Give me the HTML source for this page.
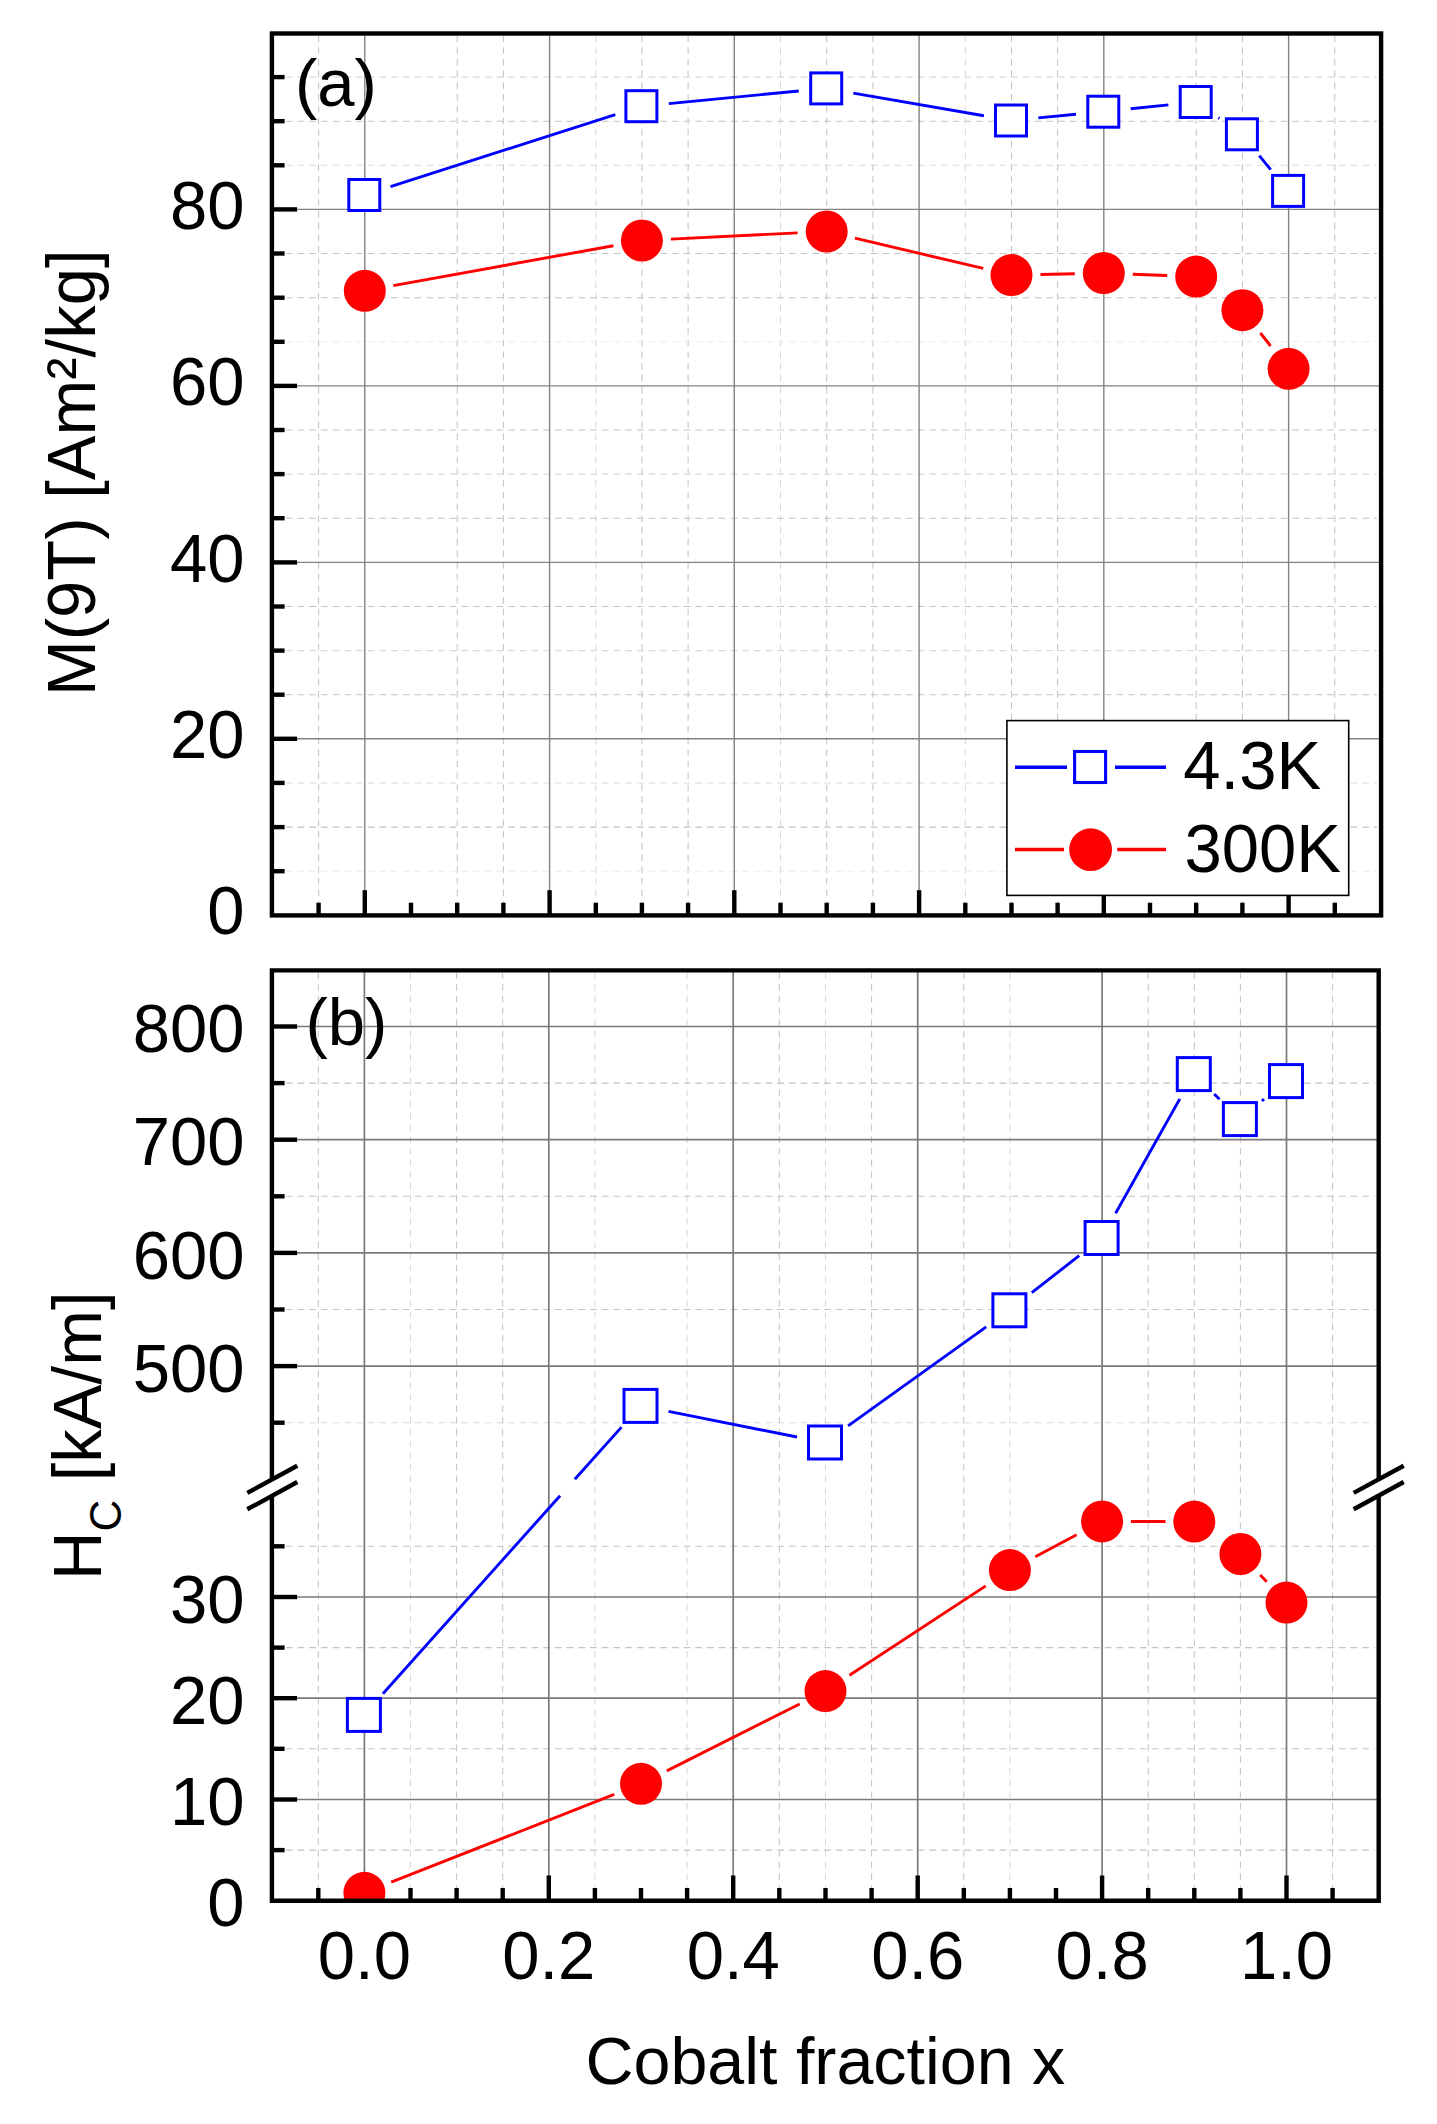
<!DOCTYPE html>
<html lang="en"><head><meta charset="utf-8"><title>Magnetisation and coercivity vs cobalt fraction</title>
<style>html,body{margin:0;padding:0;background:#fff}svg{display:block}text{font-family:"Liberation Sans",Arial,Helvetica,sans-serif;fill:#000}</style></head><body>
<svg width="1437" height="2124" viewBox="0 0 1437 2124" role="img" aria-label="Magnetisation and coercivity versus cobalt fraction">
<rect width="1437" height="2124" fill="#fff"/>
<g fill="none">
<g stroke-width="1.05" stroke-dasharray="6.7 5">
<line x1="318.6" y1="35.5" x2="318.6" y2="915.4" stroke="#c4c4c4"/>
<line x1="457.2" y1="35.5" x2="457.2" y2="915.4" stroke="#c4c4c4"/>
<line x1="503.4" y1="35.5" x2="503.4" y2="915.4" stroke="#c4c4c4"/>
<line x1="595.8" y1="35.5" x2="595.8" y2="915.4" stroke="#d9d9d9"/>
<line x1="641.9" y1="35.5" x2="641.9" y2="915.4" stroke="#c4c4c4"/>
<line x1="688.1" y1="35.5" x2="688.1" y2="915.4" stroke="#c4c4c4"/>
<line x1="780.5" y1="35.5" x2="780.5" y2="915.4" stroke="#d9d9d9"/>
<line x1="826.7" y1="35.5" x2="826.7" y2="915.4" stroke="#c4c4c4"/>
<line x1="872.9" y1="35.5" x2="872.9" y2="915.4" stroke="#c4c4c4"/>
<line x1="965.3" y1="35.5" x2="965.3" y2="915.4" stroke="#d9d9d9"/>
<line x1="1011.5" y1="35.5" x2="1011.5" y2="915.4" stroke="#c4c4c4"/>
<line x1="1057.6" y1="35.5" x2="1057.6" y2="915.4" stroke="#c4c4c4"/>
<line x1="1196.2" y1="35.5" x2="1196.2" y2="915.4" stroke="#c4c4c4"/>
<line x1="1242.4" y1="35.5" x2="1242.4" y2="915.4" stroke="#c4c4c4"/>
<line x1="1334.8" y1="35.5" x2="1334.8" y2="915.4" stroke="#c4c4c4"/>
<line x1="285.9" y1="871.2" x2="1377.1" y2="871.2" stroke="#ececec"/>
<line x1="285.9" y1="827.1" x2="1377.1" y2="827.1" stroke="#c4c4c4"/>
<line x1="285.9" y1="782.9" x2="1377.1" y2="782.9" stroke="#d9d9d9"/>
<line x1="285.9" y1="694.7" x2="1377.1" y2="694.7" stroke="#c4c4c4"/>
<line x1="285.9" y1="650.6" x2="1377.1" y2="650.6" stroke="#d9d9d9"/>
<line x1="285.9" y1="606.5" x2="1377.1" y2="606.5" stroke="#c4c4c4"/>
<line x1="285.9" y1="518.2" x2="1377.1" y2="518.2" stroke="#c4c4c4"/>
<line x1="285.9" y1="474.1" x2="1377.1" y2="474.1" stroke="#d9d9d9"/>
<line x1="285.9" y1="430.0" x2="1377.1" y2="430.0" stroke="#c4c4c4"/>
<line x1="285.9" y1="341.8" x2="1377.1" y2="341.8" stroke="#ececec"/>
<line x1="285.9" y1="297.7" x2="1377.1" y2="297.7" stroke="#c4c4c4"/>
<line x1="285.9" y1="253.5" x2="1377.1" y2="253.5" stroke="#c4c4c4"/>
<line x1="285.9" y1="165.3" x2="1377.1" y2="165.3" stroke="#d9d9d9"/>
<line x1="285.9" y1="121.2" x2="1377.1" y2="121.2" stroke="#c4c4c4"/>
<line x1="285.9" y1="77.1" x2="1377.1" y2="77.1" stroke="#d9d9d9"/>
</g>
<g stroke="#828282" stroke-width="1.4">
<line x1="364.8" y1="33.5" x2="364.8" y2="915.4"/>
<line x1="549.6" y1="33.5" x2="549.6" y2="915.4"/>
<line x1="734.3" y1="33.5" x2="734.3" y2="915.4"/>
<line x1="919.1" y1="33.5" x2="919.1" y2="915.4"/>
<line x1="1103.8" y1="33.5" x2="1103.8" y2="915.4"/>
<line x1="1288.6" y1="33.5" x2="1288.6" y2="915.4"/>
<line x1="271.9" y1="738.8" x2="1381.1" y2="738.8"/>
<line x1="271.9" y1="562.4" x2="1381.1" y2="562.4"/>
<line x1="271.9" y1="385.9" x2="1381.1" y2="385.9"/>
<line x1="271.9" y1="209.4" x2="1381.1" y2="209.4"/>
</g></g>
<g stroke="#0000ff" stroke-width="2.9" fill="none">
<line x1="390.5" y1="186.6" x2="615.3" y2="114.6"/>
<line x1="668.8" y1="103.6" x2="798.8" y2="91.0"/>
<line x1="853.3" y1="93.1" x2="983.9" y2="115.8"/>
<line x1="1038.3" y1="117.9" x2="1076.0" y2="114.3"/>
<line x1="1130.7" y1="108.8" x2="1168.4" y2="104.9"/>
<line x1="1218.3" y1="117.8" x2="1219.4" y2="118.5"/>
<line x1="1259.3" y1="155.6" x2="1270.7" y2="169.6"/>
</g>
<g stroke="#0000ff" stroke-width="3" fill="#fff">
<rect x="348.8" y="179.5" width="31" height="31"/>
<rect x="625.9" y="90.7" width="31" height="31"/>
<rect x="810.7" y="72.9" width="31" height="31"/>
<rect x="995.5" y="105.0" width="31" height="31"/>
<rect x="1087.8" y="96.2" width="31" height="31"/>
<rect x="1180.2" y="86.5" width="31" height="31"/>
<rect x="1226.4" y="118.8" width="31" height="31"/>
<rect x="1272.6" y="175.4" width="31" height="31"/>
</g>
<g stroke="#ff0000" stroke-width="2.9" fill="none">
<line x1="393.3" y1="285.6" x2="613.4" y2="245.7"/>
<line x1="670.9" y1="239.1" x2="797.7" y2="232.9"/>
<line x1="854.9" y1="238.2" x2="983.2" y2="268.4"/>
<line x1="1040.5" y1="274.5" x2="1074.8" y2="273.7"/>
<line x1="1132.8" y1="274.2" x2="1167.2" y2="275.5"/>
<line x1="1260.4" y1="333.0" x2="1270.6" y2="346.0"/>
</g>
<g fill="#ff0000">
<circle cx="364.8" cy="290.8" r="21"/>
<circle cx="641.9" cy="240.5" r="21"/>
<circle cx="826.7" cy="231.5" r="21"/>
<circle cx="1011.5" cy="275.1" r="21"/>
<circle cx="1103.8" cy="273.1" r="21"/>
<circle cx="1196.2" cy="276.6" r="21"/>
<circle cx="1242.4" cy="310.2" r="21"/>
<circle cx="1288.6" cy="368.8" r="21"/>
</g>
<g stroke="#000" stroke-width="4.4" fill="none">
<line x1="318.6" y1="915.4" x2="318.6" y2="902.7"/>
<line x1="364.8" y1="915.4" x2="364.8" y2="890.2"/>
<line x1="411.0" y1="915.4" x2="411.0" y2="902.7"/>
<line x1="457.2" y1="915.4" x2="457.2" y2="902.7"/>
<line x1="503.4" y1="915.4" x2="503.4" y2="902.7"/>
<line x1="549.6" y1="915.4" x2="549.6" y2="890.2"/>
<line x1="595.8" y1="915.4" x2="595.8" y2="902.7"/>
<line x1="641.9" y1="915.4" x2="641.9" y2="902.7"/>
<line x1="688.1" y1="915.4" x2="688.1" y2="902.7"/>
<line x1="734.3" y1="915.4" x2="734.3" y2="890.2"/>
<line x1="780.5" y1="915.4" x2="780.5" y2="902.7"/>
<line x1="826.7" y1="915.4" x2="826.7" y2="902.7"/>
<line x1="872.9" y1="915.4" x2="872.9" y2="902.7"/>
<line x1="919.1" y1="915.4" x2="919.1" y2="890.2"/>
<line x1="965.3" y1="915.4" x2="965.3" y2="902.7"/>
<line x1="1011.5" y1="915.4" x2="1011.5" y2="902.7"/>
<line x1="1057.6" y1="915.4" x2="1057.6" y2="902.7"/>
<line x1="1103.8" y1="915.4" x2="1103.8" y2="890.2"/>
<line x1="1150.0" y1="915.4" x2="1150.0" y2="902.7"/>
<line x1="1196.2" y1="915.4" x2="1196.2" y2="902.7"/>
<line x1="1242.4" y1="915.4" x2="1242.4" y2="902.7"/>
<line x1="1288.6" y1="915.4" x2="1288.6" y2="890.2"/>
<line x1="1334.8" y1="915.4" x2="1334.8" y2="902.7"/>
<line x1="271.9" y1="738.8" x2="297.1" y2="738.8"/>
<line x1="271.9" y1="562.4" x2="297.1" y2="562.4"/>
<line x1="271.9" y1="385.9" x2="297.1" y2="385.9"/>
<line x1="271.9" y1="209.4" x2="297.1" y2="209.4"/>
<line x1="271.9" y1="871.2" x2="284.6" y2="871.2"/>
<line x1="271.9" y1="827.1" x2="284.6" y2="827.1"/>
<line x1="271.9" y1="782.9" x2="284.6" y2="782.9"/>
<line x1="271.9" y1="694.7" x2="284.6" y2="694.7"/>
<line x1="271.9" y1="650.6" x2="284.6" y2="650.6"/>
<line x1="271.9" y1="606.5" x2="284.6" y2="606.5"/>
<line x1="271.9" y1="518.2" x2="284.6" y2="518.2"/>
<line x1="271.9" y1="474.1" x2="284.6" y2="474.1"/>
<line x1="271.9" y1="430.0" x2="284.6" y2="430.0"/>
<line x1="271.9" y1="341.8" x2="284.6" y2="341.8"/>
<line x1="271.9" y1="297.7" x2="284.6" y2="297.7"/>
<line x1="271.9" y1="253.5" x2="284.6" y2="253.5"/>
<line x1="271.9" y1="165.3" x2="284.6" y2="165.3"/>
<line x1="271.9" y1="121.2" x2="284.6" y2="121.2"/>
<line x1="271.9" y1="77.1" x2="284.6" y2="77.1"/>
</g>
<rect x="271.9" y="33.5" width="1109.2" height="881.9" fill="none" stroke="#000" stroke-width="4.4"/>
<rect x="1006.9" y="720.6" width="341.8" height="174.8" fill="#fff" stroke="#000" stroke-width="1.6"/>
<g stroke-width="3.4" fill="none"><g stroke="#0000ff"><line x1="1015" y1="767.3" x2="1067" y2="767.3"/><line x1="1115" y1="767.3" x2="1166" y2="767.3"/></g><g stroke="#ff0000"><line x1="1015" y1="849.5" x2="1064" y2="849.5"/><line x1="1117.2" y1="849.5" x2="1166" y2="849.5"/></g></g>
<rect x="1074.6" y="751.5" width="31" height="31" fill="#fff" stroke="#0000ff" stroke-width="3.1"/>
<circle cx="1090.6" cy="849.7" r="21.4" fill="#ff0000"/>
<text transform="translate(1183.3 789) scale(1 1.034)" font-size="67">4.3K</text>
<text transform="translate(1184.5 872.3) scale(1 1.034)" font-size="67">300K</text>
<text transform="translate(244.6 934.4) scale(1 1.034)" font-size="67" text-anchor="end">0</text>
<text transform="translate(244.6 757.9) scale(1 1.034)" font-size="67" text-anchor="end">20</text>
<text transform="translate(244.6 581.5) scale(1 1.034)" font-size="67" text-anchor="end">40</text>
<text transform="translate(244.6 405.0) scale(1 1.034)" font-size="67" text-anchor="end">60</text>
<text transform="translate(244.6 228.5) scale(1 1.034)" font-size="67" text-anchor="end">80</text>
<text transform="translate(295 105.8) scale(1 1.0)" font-size="67">(a)</text>
<text transform="translate(95.1 696) rotate(-90) scale(1 1.025)" font-size="67">M(9T) [Am²/kg]</text>
<g fill="none">
<g stroke-width="1.05" stroke-dasharray="6.7 5">
<line x1="318.3" y1="972.4" x2="318.3" y2="1900.7" stroke="#c4c4c4"/>
<line x1="410.5" y1="972.4" x2="410.5" y2="1900.7" stroke="#d9d9d9"/>
<line x1="456.6" y1="972.4" x2="456.6" y2="1900.7" stroke="#c4c4c4"/>
<line x1="502.7" y1="972.4" x2="502.7" y2="1900.7" stroke="#c4c4c4"/>
<line x1="594.9" y1="972.4" x2="594.9" y2="1900.7" stroke="#d9d9d9"/>
<line x1="687.1" y1="972.4" x2="687.1" y2="1900.7" stroke="#d9d9d9"/>
<line x1="779.3" y1="972.4" x2="779.3" y2="1900.7" stroke="#c4c4c4"/>
<line x1="825.5" y1="972.4" x2="825.5" y2="1900.7" stroke="#d9d9d9"/>
<line x1="871.6" y1="972.4" x2="871.6" y2="1900.7" stroke="#c4c4c4"/>
<line x1="963.8" y1="972.4" x2="963.8" y2="1900.7" stroke="#c4c4c4"/>
<line x1="1009.9" y1="972.4" x2="1009.9" y2="1900.7" stroke="#d9d9d9"/>
<line x1="1148.2" y1="972.4" x2="1148.2" y2="1900.7" stroke="#c4c4c4"/>
<line x1="1194.3" y1="972.4" x2="1194.3" y2="1900.7" stroke="#c4c4c4"/>
<line x1="1240.4" y1="972.4" x2="1240.4" y2="1900.7" stroke="#c4c4c4"/>
<line x1="1332.6" y1="972.4" x2="1332.6" y2="1900.7" stroke="#c4c4c4"/>
<line x1="285.9" y1="1083.1" x2="1374.7" y2="1083.1" stroke="#c4c4c4"/>
<line x1="285.9" y1="1196.3" x2="1374.7" y2="1196.3" stroke="#c4c4c4"/>
<line x1="285.9" y1="1309.5" x2="1374.7" y2="1309.5" stroke="#c4c4c4"/>
<line x1="285.9" y1="1422.7" x2="1374.7" y2="1422.7" stroke="#d9d9d9"/>
<line x1="285.9" y1="1546.3" x2="1374.7" y2="1546.3" stroke="#c4c4c4"/>
<line x1="285.9" y1="1647.6" x2="1374.7" y2="1647.6" stroke="#c4c4c4"/>
<line x1="285.9" y1="1748.8" x2="1374.7" y2="1748.8" stroke="#c4c4c4"/>
<line x1="285.9" y1="1850.1" x2="1374.7" y2="1850.1" stroke="#c4c4c4"/>
</g>
<g stroke="#7a7a7a" stroke-width="1.7">
<line x1="364.4" y1="970.4" x2="364.4" y2="1900.7"/>
<line x1="548.8" y1="970.4" x2="548.8" y2="1900.7"/>
<line x1="733.2" y1="970.4" x2="733.2" y2="1900.7"/>
<line x1="917.7" y1="970.4" x2="917.7" y2="1900.7"/>
<line x1="1102.1" y1="970.4" x2="1102.1" y2="1900.7"/>
<line x1="1286.5" y1="970.4" x2="1286.5" y2="1900.7"/>
<line x1="271.9" y1="1026.5" x2="1378.7" y2="1026.5"/>
<line x1="271.9" y1="1139.7" x2="1378.7" y2="1139.7"/>
<line x1="271.9" y1="1252.9" x2="1378.7" y2="1252.9"/>
<line x1="271.9" y1="1366.1" x2="1378.7" y2="1366.1"/>
<line x1="271.9" y1="1597.0" x2="1378.7" y2="1597.0"/>
<line x1="271.9" y1="1698.2" x2="1378.7" y2="1698.2"/>
<line x1="271.9" y1="1799.5" x2="1378.7" y2="1799.5"/>
</g></g>
<g stroke="#000" stroke-width="4.4" fill="none">
<line x1="318.3" y1="1900.7" x2="318.3" y2="1888.0"/>
<line x1="364.4" y1="1900.7" x2="364.4" y2="1875.5"/>
<line x1="410.5" y1="1900.7" x2="410.5" y2="1888.0"/>
<line x1="456.6" y1="1900.7" x2="456.6" y2="1888.0"/>
<line x1="502.7" y1="1900.7" x2="502.7" y2="1888.0"/>
<line x1="548.8" y1="1900.7" x2="548.8" y2="1875.5"/>
<line x1="594.9" y1="1900.7" x2="594.9" y2="1888.0"/>
<line x1="641.0" y1="1900.7" x2="641.0" y2="1888.0"/>
<line x1="687.1" y1="1900.7" x2="687.1" y2="1888.0"/>
<line x1="733.2" y1="1900.7" x2="733.2" y2="1875.5"/>
<line x1="779.3" y1="1900.7" x2="779.3" y2="1888.0"/>
<line x1="825.5" y1="1900.7" x2="825.5" y2="1888.0"/>
<line x1="871.6" y1="1900.7" x2="871.6" y2="1888.0"/>
<line x1="917.7" y1="1900.7" x2="917.7" y2="1875.5"/>
<line x1="963.8" y1="1900.7" x2="963.8" y2="1888.0"/>
<line x1="1009.9" y1="1900.7" x2="1009.9" y2="1888.0"/>
<line x1="1056.0" y1="1900.7" x2="1056.0" y2="1888.0"/>
<line x1="1102.1" y1="1900.7" x2="1102.1" y2="1875.5"/>
<line x1="1148.2" y1="1900.7" x2="1148.2" y2="1888.0"/>
<line x1="1194.3" y1="1900.7" x2="1194.3" y2="1888.0"/>
<line x1="1240.4" y1="1900.7" x2="1240.4" y2="1888.0"/>
<line x1="1286.5" y1="1900.7" x2="1286.5" y2="1875.5"/>
<line x1="1332.6" y1="1900.7" x2="1332.6" y2="1888.0"/>
<line x1="271.9" y1="1026.5" x2="297.1" y2="1026.5"/>
<line x1="271.9" y1="1139.7" x2="297.1" y2="1139.7"/>
<line x1="271.9" y1="1252.9" x2="297.1" y2="1252.9"/>
<line x1="271.9" y1="1366.1" x2="297.1" y2="1366.1"/>
<line x1="271.9" y1="1597.0" x2="297.1" y2="1597.0"/>
<line x1="271.9" y1="1698.2" x2="297.1" y2="1698.2"/>
<line x1="271.9" y1="1799.5" x2="297.1" y2="1799.5"/>
<line x1="271.9" y1="1083.1" x2="284.6" y2="1083.1"/>
<line x1="271.9" y1="1196.3" x2="284.6" y2="1196.3"/>
<line x1="271.9" y1="1309.5" x2="284.6" y2="1309.5"/>
<line x1="271.9" y1="1422.7" x2="284.6" y2="1422.7"/>
<line x1="271.9" y1="1546.3" x2="284.6" y2="1546.3"/>
<line x1="271.9" y1="1647.6" x2="284.6" y2="1647.6"/>
<line x1="271.9" y1="1748.8" x2="284.6" y2="1748.8"/>
<line x1="271.9" y1="1850.1" x2="284.6" y2="1850.1"/>
</g>
<clipPath id="c2"><rect x="271.9" y="970.4" width="1106.8" height="930.3"/></clipPath>
<g clip-path="url(#c2)">
<g stroke="#0000ff" stroke-width="2.9" fill="none">
<line x1="382.9" y1="1693.7" x2="560.1" y2="1495.7"/>
<line x1="574.8" y1="1479.3" x2="621.5" y2="1427.1"/>
<line x1="668.5" y1="1411.4" x2="797.0" y2="1437.0"/>
<line x1="848.1" y1="1425.9" x2="986.2" y2="1326.9"/>
<line x1="1031.8" y1="1292.7" x2="1079.2" y2="1255.6"/>
<line x1="1115.6" y1="1213.2" x2="1179.8" y2="1098.9"/>
<line x1="1214.2" y1="1094.0" x2="1219.5" y2="1099.2"/>
<line x1="1261.9" y1="1101.0" x2="1264.0" y2="1099.2"/>
</g>
<g stroke="#0000ff" stroke-width="3" fill="#fff">
<rect x="347.4" y="1698.4" width="33" height="33"/>
<rect x="624.0" y="1389.4" width="33" height="33"/>
<rect x="808.5" y="1426.0" width="33" height="33"/>
<rect x="992.9" y="1293.8" width="33" height="33"/>
<rect x="1085.1" y="1221.5" width="33" height="33"/>
<rect x="1177.3" y="1057.6" width="33" height="33"/>
<rect x="1223.4" y="1102.6" width="33" height="33"/>
<rect x="1269.5" y="1064.6" width="33" height="33"/>
</g>
<g stroke="#ff0000" stroke-width="2.9" fill="none">
<line x1="391.2" y1="1882.2" x2="614.2" y2="1794.4"/>
<line x1="666.8" y1="1770.9" x2="799.7" y2="1704.0"/>
<line x1="849.5" y1="1675.3" x2="985.8" y2="1585.9"/>
<line x1="1035.3" y1="1556.7" x2="1076.6" y2="1534.8"/>
<line x1="1130.9" y1="1521.5" x2="1165.5" y2="1521.5"/>
<line x1="1260.2" y1="1574.9" x2="1266.7" y2="1581.7"/>
</g>
<g fill="#ff0000">
<circle cx="364.4" cy="1892.8" r="21"/>
<circle cx="641.0" cy="1783.8" r="21"/>
<circle cx="825.5" cy="1691.1" r="21"/>
<circle cx="1009.9" cy="1570.1" r="21"/>
<circle cx="1102.1" cy="1521.4" r="21"/>
<circle cx="1194.3" cy="1521.6" r="21"/>
<circle cx="1240.4" cy="1554.0" r="21"/>
<circle cx="1286.5" cy="1602.6" r="21"/>
</g>
</g>
<g stroke="#000" stroke-width="4.4" fill="none">
<path d="M271.9 1479.3V970.4H1378.7V1479.3M1378.7 1495.7V1900.7H271.9V1495.7" stroke-linejoin="miter"/>
</g>
<g stroke="#000" stroke-width="4.4" fill="none">
<line x1="247.3" y1="1492.9" x2="297.3" y2="1465.8"/>
<line x1="247.3" y1="1509.3" x2="297.3" y2="1482.0"/>
<line x1="1353.7" y1="1492.9" x2="1403.7" y2="1465.8"/>
<line x1="1353.7" y1="1509.3" x2="1403.7" y2="1482.0"/>
</g>
<text transform="translate(244.6 1052.1) scale(1 1.034)" font-size="67" text-anchor="end">800</text>
<text transform="translate(244.6 1165.3) scale(1 1.034)" font-size="67" text-anchor="end">700</text>
<text transform="translate(244.6 1278.5) scale(1 1.034)" font-size="67" text-anchor="end">600</text>
<text transform="translate(244.6 1391.7) scale(1 1.034)" font-size="67" text-anchor="end">500</text>
<text transform="translate(244.6 1622.7) scale(1 1.034)" font-size="67" text-anchor="end">30</text>
<text transform="translate(244.6 1723.9) scale(1 1.034)" font-size="67" text-anchor="end">20</text>
<text transform="translate(244.6 1825.2) scale(1 1.034)" font-size="67" text-anchor="end">10</text>
<text transform="translate(244.6 1926.4) scale(1 1.034)" font-size="67" text-anchor="end">0</text>
<text transform="translate(364.4 1979.3) scale(1 1.034)" font-size="67" text-anchor="middle">0.0</text>
<text transform="translate(548.8 1979.3) scale(1 1.034)" font-size="67" text-anchor="middle">0.2</text>
<text transform="translate(733.2 1979.3) scale(1 1.034)" font-size="67" text-anchor="middle">0.4</text>
<text transform="translate(917.7 1979.3) scale(1 1.034)" font-size="67" text-anchor="middle">0.6</text>
<text transform="translate(1102.1 1979.3) scale(1 1.034)" font-size="67" text-anchor="middle">0.8</text>
<text transform="translate(1286.5 1979.3) scale(1 1.034)" font-size="67" text-anchor="middle">1.0</text>
<text transform="translate(305.5 1044.7) scale(1 1.0)" font-size="67">(b)</text>
<text transform="translate(101.1 1580) rotate(-90) scale(1 1.025)" font-size="67">H<tspan font-size="44" dy="19">C</tspan><tspan dy="-19"> [kA/m]</tspan></text>
<text transform="translate(825.4 2084) scale(1 1.0)" font-size="66.4" text-anchor="middle">Cobalt fraction x</text>
</svg></body></html>
